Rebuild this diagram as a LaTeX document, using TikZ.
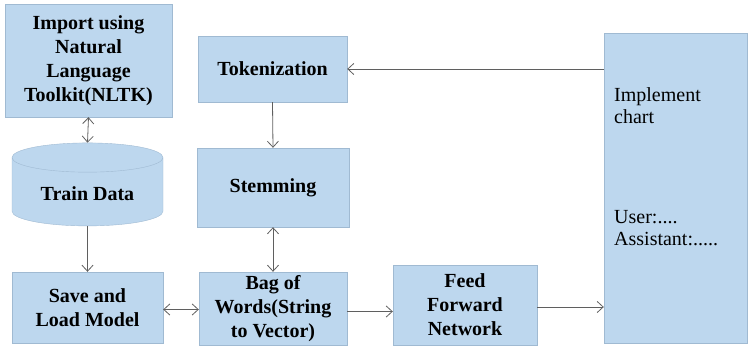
\documentclass[tikz,border=0pt]{standalone}
\usepackage{fontspec}
\newfontfamily\libserif{Liberation Serif}
\usetikzlibrary{arrows.meta, shapes.geometric}

\definecolor{boxfill}{RGB}{189,215,238}
\definecolor{boxedge}{RGB}{160,186,210}
\definecolor{arrowgray}{RGB}{95,95,95}

\tikzset{
  block/.style={draw=boxedge, fill=boxfill, thin, inner sep=2pt, align=center,
    font=\libserif\fontsize{20}{24}\selectfont\bfseries},
  link/.style={draw=arrowgray, thick, -{Straight Barb[length=6pt,width=11pt]}},
  dlink/.style={draw=arrowgray, thick, {Straight Barb[length=6pt,width=11pt]}-{Straight Barb[length=6pt,width=11pt]}}
}

\begin{document}
\begin{tikzpicture}[x=1pt,y=-1pt]

    \useasboundingbox (0,0) rectangle (748,347);

    % Left column
    \node[block, minimum width=167pt, minimum height=113pt] (nltk) at (88.5,60.5)
        {Import using\\Natural\\Language\\Toolkit(NLTK)};
    \node[block, cylinder, shape border rotate=90, aspect=0.3,
        minimum width=151pt, minimum height=83pt] (train) at (87.5,193.5) {Train Data};
    \node[block, minimum width=151pt, minimum height=71pt] (save) at (87.5,307.5)
        {Save and\\Load Model};

    % Middle column
    \node[block, minimum width=149pt, minimum height=66pt] (token) at (272.5,69) {Tokenization};
    \node[block, minimum width=152pt, minimum height=79pt] (stem) at (273,187.5) {Stemming};
    \node[block, minimum width=148pt, minimum height=73pt] (bow) at (273,308.5)
        {Bag of\\Words(String\\to Vector)};
    \node[block, minimum width=144pt, minimum height=80pt] (ffn) at (465,305)
        {Feed\\Forward\\Network};

    % Chat window
    \node[block, minimum width=143pt, minimum height=310pt] (chat) at (675.5,188) {};
    \node[anchor=north west, align=left, inner sep=0pt,
        font=\libserif\fontsize{20}{22}\selectfont] (chattext) at (614,87)
        {Implement\\chart\\[78pt]User:....\\Assistant:.....};

    % Arrow(s)
    \draw[dlink] (nltk.south) -- (train.north);
    \draw[link] (train.south) -- (save.north);
    \draw[dlink] ([yshift=-2pt]save.east) -- ([yshift=-2pt]save.east -| bow.west);
    \draw[link] (token.south) -- (stem.north);
    \draw[dlink] (stem.south) -- (bow.north);
    \draw[link] ([yshift=-3pt]bow.east) -- ([yshift=-3pt]bow.east -| ffn.west);
    \draw[link] ([yshift=-2pt]ffn.east) -- ([yshift=-2pt]ffn.east -| chat.west);
    \draw[link] (chat.west |- token.east) -- (token.east);

\end{tikzpicture}
\end{document}
